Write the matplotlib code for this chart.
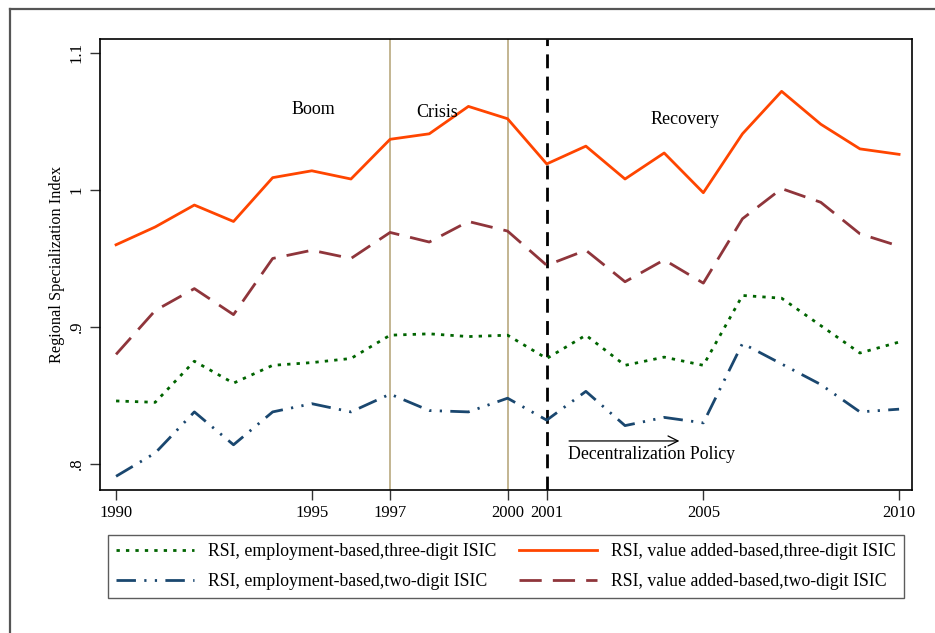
import numpy as np
import matplotlib.pyplot as plt
from matplotlib.lines import Line2D

plt.rcParams['font.family'] = ['Liberation Serif', 'DejaVu Serif']

years = np.arange(1990, 2011)

# RSI series, 1990-2010
va_three = [0.960, 0.973, 0.989, 0.977, 1.009, 1.014, 1.008, 1.037, 1.041, 1.061,
            1.052, 1.019, 1.032, 1.008, 1.027, 0.998, 1.041, 1.072, 1.048, 1.030, 1.026]
va_two = [0.880, 0.912, 0.928, 0.909, 0.950, 0.956, 0.950, 0.969, 0.962, 0.977,
          0.970, 0.945, 0.956, 0.933, 0.949, 0.932, 0.979, 1.001, 0.991, 0.968, 0.959]
emp_three = [0.846, 0.845, 0.875, 0.859, 0.872, 0.874, 0.877, 0.894, 0.895, 0.893,
             0.894, 0.877, 0.894, 0.872, 0.878, 0.872, 0.923, 0.921, 0.901, 0.881, 0.889]
emp_two = [0.791, 0.808, 0.838, 0.814, 0.838, 0.844, 0.838, 0.851, 0.839, 0.838,
           0.848, 0.832, 0.853, 0.828, 0.834, 0.830, 0.888, 0.873, 0.858, 0.838, 0.840]

xticks = [1990, 1995, 1997, 2000, 2001, 2005, 2010]
yticks = [0.8, 0.9, 1.0, 1.1]
ytick_labels = ['.8', '.9', '1', '1.1']

fig = plt.figure(figsize=(9.35, 6.33), dpi=100)
ax = fig.add_axes([100/935, 1 - 490/633, 812/935, 451/633])

ax.axvline(1997, color='#b9a97f', lw=1.2, zorder=1)
ax.axvline(2000, color='#b9a97f', lw=1.2, zorder=1)
ax.axvline(2001, color='black', lw=2, ls=(0, (5, 3)), zorder=1)

l1, = ax.plot(years, emp_three, color='#006400', lw=2, ls=(0, (1.2, 2.2)),
              label='RSI, employment-based,three-digit ISIC')
l2, = ax.plot(years, emp_two, color='#1a476f', lw=2, ls=(0, (7, 3, 0.8, 3, 0.8, 3)),
              label='RSI, employment-based,two-digit ISIC')
l3, = ax.plot(years, va_three, color='#ff4500', lw=2, ls='-',
              label='RSI, value added-based,three-digit ISIC')
l4, = ax.plot(years, va_two, color='#8f353b', lw=2, ls=(0, (8, 4)),
              label='RSI, value added-based,two-digit ISIC')

ax.set_xlim(1989.59, 2010.33)
ax.set_ylim(0.781, 1.1102)
ax.set_xticks(xticks)
ax.set_xticklabels([str(x) for x in xticks], fontsize=12)
ax.set_yticks(yticks)
ax.set_yticklabels(ytick_labels, fontsize=12, rotation=90, va='center')
ax.tick_params(direction='out', length=7, width=1, color='#333333', pad=4)
ax.set_ylabel('Regional Specialization Index', fontsize=11.7, labelpad=3)
for s in ax.spines.values():
    s.set_linewidth(1.2)

ax.text(1995.03, 1.0585, 'Boom', fontsize=13, ha='center', va='center')
ax.text(1998.2, 1.0569, 'Crisis', fontsize=13, ha='center', va='center')
ax.text(2004.53, 1.0511, 'Recovery', fontsize=13, ha='center', va='center')
ax.annotate('', xy=(2004.46, 0.8168), xytext=(2001.5, 0.8168),
            arrowprops=dict(arrowstyle='->', color='black', lw=0.9, mutation_scale=18))
ax.text(2001.55, 0.8068, 'Decentralization Policy', fontsize=12.8, ha='left', va='center')

fig.legend(handles=[l1, l2, l3, l4], ncol=2, mode='expand', loc='center',
           bbox_to_anchor=(108/935, 1 - 601/633, 796/935, 69/633), borderaxespad=0,
           fontsize=12.8, handlelength=4.4, handletextpad=0.8, labelspacing=0.74,
           frameon=True, fancybox=False, edgecolor='#333333', borderpad=0.45)

# outer frame
fig.add_artist(Line2D([10/935, 10/935], [0, 1 - 9/633], color='#555555', lw=1.6))
fig.add_artist(Line2D([10/935, 1], [1 - 9/633, 1 - 9/633], color='#555555', lw=1.6))

fig.savefig('out.png', dpi=100)
